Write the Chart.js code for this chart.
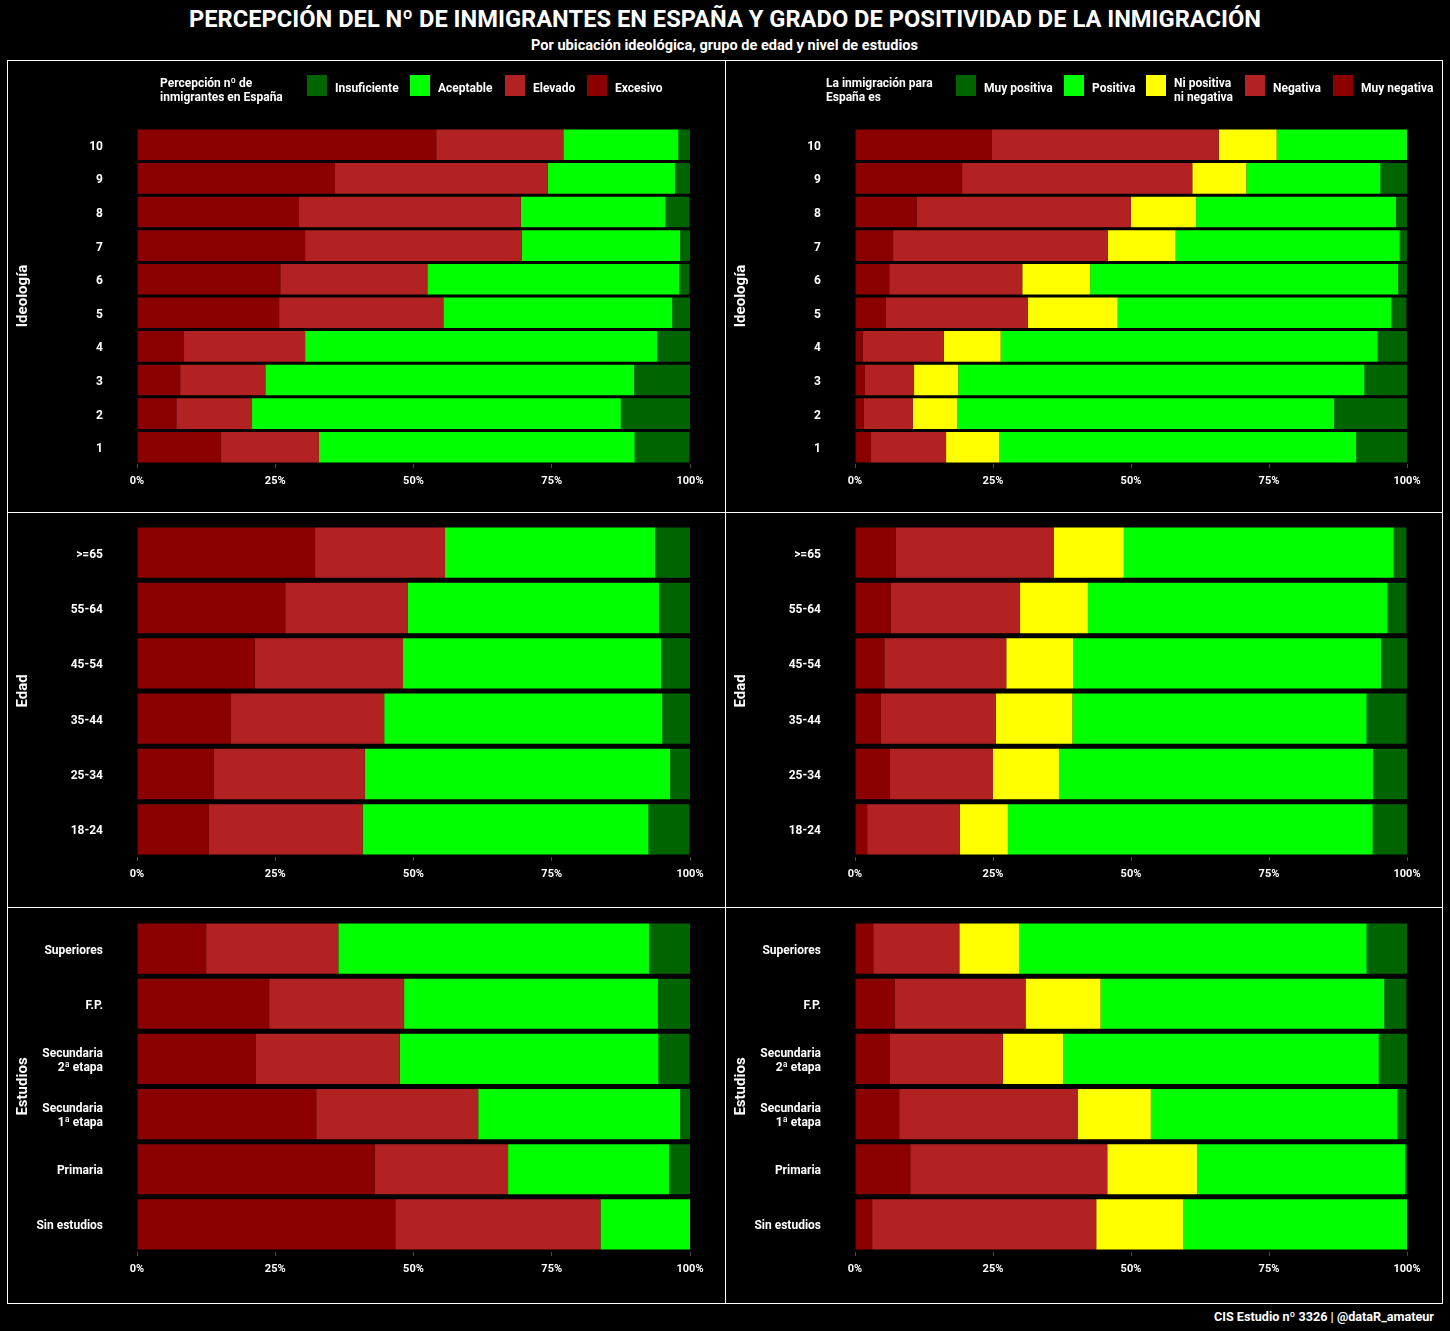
<!DOCTYPE html>
<html><head><meta charset="utf-8">
<script src="https://cdn.jsdelivr.net/npm/chart.js@4.4.1/dist/chart.umd.min.js"></script>
<style>
html,body{margin:0;padding:0;background:#000;}
body{width:1450px;height:1331px;position:relative;overflow:hidden;font-family:Roboto,'Noto Sans',sans-serif;font-weight:bold;color:#fff;}
.abs{position:absolute;white-space:nowrap;}
.fit{transform-origin:left top;}
#title{top:5px;font-size:24px;}
#subtitle{top:37px;font-size:14px;}
.frame{position:absolute;border:1px solid #fff;box-sizing:border-box;}
canvas{position:absolute;}
.legtitle{position:absolute;font-size:12px;line-height:14px;white-space:nowrap;}
.key{position:absolute;width:20px;height:21px;}
.klab{position:absolute;font-size:12px;line-height:14px;white-space:nowrap;}
#footer{top:1309px;font-size:12.5px;}
</style></head>
<body>
<div id="title" class="abs fit">PERCEPCIÓN DEL Nº DE INMIGRANTES EN ESPAÑA Y GRADO DE POSITIVIDAD DE LA INMIGRACIÓN</div>
<div id="subtitle" class="abs fit">Por ubicación ideológica, grupo de edad y nivel de estudios</div>
<div class="frame" style="left:7px;top:60px;width:719px;height:453px"></div>
<div class="frame" style="left:725px;top:60px;width:718px;height:453px"></div>
<div class="frame" style="left:7px;top:512px;width:719px;height:396px"></div>
<div class="frame" style="left:725px;top:512px;width:718px;height:396px"></div>
<div class="frame" style="left:7px;top:907px;width:719px;height:397px"></div>
<div class="frame" style="left:725px;top:907px;width:718px;height:397px"></div>
<canvas id="c1"></canvas><canvas id="c2"></canvas><canvas id="c3"></canvas>
<canvas id="c4"></canvas><canvas id="c5"></canvas><canvas id="c6"></canvas>
<div id="legL"></div><div id="legR"></div>
<div id="footer" class="abs fit">CIS Estudio nº 3326 | @dataR_amateur</div>
<script>
// ---------- categories ----------
const ideoLabels = ['10','9','8','7','6','5','4','3','2','1'];
const edadLabels = ['>=65','55-64','45-54','35-44','25-34','18-24'];
const estLabels = ['Superiores','F.P.',['Secundaria','2ª etapa'],['Secundaria','1ª etapa'],'Primaria','Sin estudios'];
const xTicks = ['0%','25%','50%','75%','100%'];

// ---------- series names ----------
const percNames = ['Excesivo','Elevado','Aceptable','Insuficiente'];
const posNames = ['Muy negativa','Negativa','Ni positiva ni negativa','Positiva','Muy positiva'];
const percColors = ['#8B0000','#B22222','#00FF00','#006400'];
const posColors = ['#8B0000','#B22222','#FFFF00','#00FF00','#006400'];

// ---------- Percepción nº inmigrantes: Ideología ----------
const ideoExcesivo    = [54.1,35.8,29.3,30.4,25.9,25.7, 8.5, 7.8, 7.1,15.2];
const ideoElevado     = [23.0,38.5,40.1,39.2,26.6,29.7,21.9,15.4,13.7,17.7];
const ideoAceptable   = [20.8,23.0,26.2,28.6,45.6,41.4,63.7,66.7,66.7,57.1];
const ideoInsuficiente= [ 2.2, 2.7, 4.3, 1.8, 1.8, 3.3, 6.0,10.1,12.5, 9.9];
// ---------- Positividad: Ideología ----------
const ideoMuyNeg = [24.8,19.4,11.2, 6.9, 6.2, 5.6, 1.4, 1.8, 1.6, 2.9];
const ideoNeg    = [41.1,41.7,38.8,38.9,24.1,25.7,14.7, 8.9, 8.9,13.6];
const ideoNi     = [10.5, 9.8,11.8,12.3,12.3,16.3,10.3, 8.0, 8.0, 9.6];
const ideoPos    = [23.6,24.3,36.2,40.6,55.8,49.6,68.3,73.6,68.3,64.7];
const ideoMuyPos = [ 0.0, 4.9, 2.0, 1.3, 1.6, 2.7, 5.3, 7.8,13.2, 9.2];

// ---------- Percepción: Edad ----------
const edadExcesivo    = [32.2,26.8,21.3,17.0,13.9,13.0];
const edadElevado     = [23.5,22.2,26.8,27.7,27.3,27.8];
const edadAceptable   = [38.0,45.4,46.7,50.3,55.2,51.7];
const edadInsuficiente= [ 6.3, 5.6, 5.2, 5.0, 3.6, 7.4];
// ---------- Positividad: Edad ----------
const edadMuyNeg = [ 7.4, 6.5, 5.3, 4.7, 6.3, 2.2];
const edadNeg    = [28.6,23.4,22.1,20.8,18.7,16.8];
const edadNi     = [12.7,12.3,12.1,13.9,12.0, 8.7];
const edadPos    = [48.9,54.3,55.8,53.3,56.9,66.1];
const edadMuyPos = [ 2.3, 3.4, 4.7, 7.2, 6.2, 6.2];

// ---------- Percepción: Estudios ----------
const estExcesivo    = [12.5,23.9,21.5,32.4,43.0,46.7];
const estElevado     = [23.9,24.4,26.0,29.3,24.1,37.1];
const estAceptable   = [56.2,45.9,46.8,36.5,29.1,16.3];
const estInsuficiente= [ 7.4, 5.8, 5.6, 1.8, 3.8, 0.0];
// ---------- Positividad: Estudios ----------
const estMuyNeg = [ 3.3, 7.2, 6.3, 8.0,10.0, 3.1];
const estNeg    = [15.6,23.7,20.5,32.4,35.7,40.6];
const estNi     = [10.9,13.6,10.9,13.2,16.3,15.8];
const estPos    = [62.9,51.4,57.2,44.7,37.7,40.6];
const estMuyPos = [ 7.4, 4.0, 5.1, 1.6, 0.4, 0.0];

// ---------- text width fitting (layout only) ----------
function fitText(id, left, right){
  const el = document.getElementById(id);
  const w = el.getBoundingClientRect().width;
  el.style.transform = 'scaleX(' + ((right - left) / w) + ')';
  el.style.left = left + 'px';
}
fitText('title', 189, 1261);
fitText('subtitle', 531, 918);
fitText('footer', 1214, 1434);

// ---------- charts ----------
const FONT = "Roboto,'Noto Sans',sans-serif";
Chart.defaults.font.family = FONT;
Chart.defaults.font.weight = 'bold';
Chart.defaults.color = '#fff';

const panels = [
  {id:'c1', left:8,   top:61,  w:716, h:450, padTop:67, axisH:47, labels:ideoLabels, names:percNames, colors:percColors,
   data:[ideoExcesivo,ideoElevado,ideoAceptable,ideoInsuficiente], ytitle:'Ideología'},
  {id:'c2', left:726, top:61,  w:715, h:450, padTop:67, axisH:47, labels:ideoLabels, names:posNames, colors:posColors,
   data:[ideoMuyNeg,ideoNeg,ideoNi,ideoPos,ideoMuyPos], ytitle:'Ideología'},
  {id:'c3', left:8,   top:513, w:716, h:393, padTop:12, axisH:49, labels:edadLabels, names:percNames, colors:percColors,
   data:[edadExcesivo,edadElevado,edadAceptable,edadInsuficiente], ytitle:'Edad'},
  {id:'c4', left:726, top:513, w:715, h:393, padTop:12, axisH:49, labels:edadLabels, names:posNames, colors:posColors,
   data:[edadMuyNeg,edadNeg,edadNi,edadPos,edadMuyPos], ytitle:'Edad'},
  {id:'c5', left:8,   top:908, w:716, h:394, padTop:13, axisH:50, labels:estLabels, names:percNames, colors:percColors,
   data:[estExcesivo,estElevado,estAceptable,estInsuficiente], ytitle:'Estudios'},
  {id:'c6', left:726, top:908, w:715, h:394, padTop:13, axisH:50, labels:estLabels, names:posNames, colors:posColors,
   data:[estMuyNeg,estNeg,estNi,estPos,estMuyPos], ytitle:'Estudios'}
];

panels.forEach(p => {
  const cv = document.getElementById(p.id);
  cv.width = p.w; cv.height = p.h;
  cv.style.left = p.left + 'px'; cv.style.top = p.top + 'px';
  cv.style.width = p.w + 'px'; cv.style.height = p.h + 'px';
  new Chart(cv, {
    type: 'bar',
    data: {
      labels: p.labels,
      datasets: p.data.map((arr, i) => ({
        label: p.names[i], data: arr, backgroundColor: p.colors[i],
        borderWidth: 0, barPercentage: 0.91, categoryPercentage: 1.0
      }))
    },
    options: {
      indexAxis: 'y', responsive: false, animation: false,
      devicePixelRatio: 1,
      layout: {padding: {top: p.padTop, right: 34, bottom: 0, left: 0}},
      plugins: {legend: {display: false}, tooltip: {enabled: false}},
      scales: {
        x: {
          stacked: true, min: 0, max: 100,
          afterFit: s => { s.height = p.axisH; s.paddingLeft = 0; s.paddingRight = 0; },
          afterBuildTicks: s => { s.ticks = xTicks.map((t, i) => ({value: i * 25})); },
          ticks: {callback: (v, i) => xTicks[i], color: '#fff', font: {size: 11, weight: 'bold'}, padding: 7, maxRotation: 0},
          grid: {drawOnChartArea: false, drawTicks: true, tickLength: 4, color: '#4a4a4a'},
          border: {display: false}
        },
        y: {
          stacked: true,
          afterFit: s => { s.width = 129; s.paddingTop = 0; s.paddingBottom = 0; },
          ticks: {color: '#fff', font: {size: 12, weight: 'bold', lineHeight: 1.15}, padding: 34, labelOffset: 2, autoSkip: false},
          grid: {display: false, drawTicks: false},
          border: {display: false},
          title: {display: true, text: p.ytitle, color: '#fff', font: {size: 15, weight: 'bold'}, padding: {top: 6, bottom: 0}}
        }
      }
    }
  });
});

// ---------- legends ----------
const legLeftPos  = {title:[160,76], keys:[307,410,505,587]};
const legRightPos = {title:[826,76], keys:[956,1064,1146,1245,1333]};
function buildLegend(host, titleLines, names, colors, pos, order){
  const el = document.getElementById(host);
  const t = document.createElement('div');
  t.className = 'legtitle';
  t.style.left = pos.title[0] + 'px'; t.style.top = pos.title[1] + 'px';
  t.innerHTML = titleLines.join('<br>');
  el.appendChild(t);
  order.forEach((idx, k) => {
    const kx = pos.keys[k];
    const sq = document.createElement('div');
    sq.className = 'key'; sq.style.left = kx + 'px'; sq.style.top = '75px'; sq.style.background = colors[idx];
    el.appendChild(sq);
    const lb = document.createElement('div');
    lb.className = 'klab'; lb.style.left = (kx + 28) + 'px';
    const parts = names[idx] === 'Ni positiva ni negativa' ? ['Ni positiva','ni negativa'] : [names[idx]];
    lb.style.top = (parts.length > 1 ? 76 : 81) + 'px';
    lb.innerHTML = parts.join('<br>');
    el.appendChild(lb);
  });
}
buildLegend('legL', ['Percepción nº de','inmigrantes en España'], percNames, percColors, legLeftPos, [3,2,1,0]);
buildLegend('legR', ['La inmigración para','España es'], posNames, posColors, legRightPos, [4,3,2,1,0]);
</script>
</body></html>
